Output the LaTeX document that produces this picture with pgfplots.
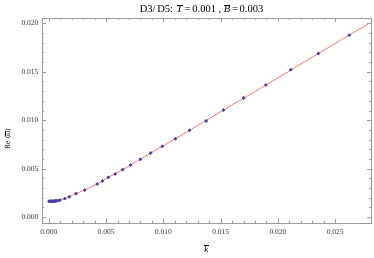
\documentclass[border=0pt]{standalone}
\usepackage{fontspec}
\setmainfont{Liberation Serif}
\usepackage{pgfplots}
\pgfplotsset{compat=1.18}
\definecolor{ptblue}{RGB}{72,64,158}
\definecolor{lnred}{RGB}{255,70,70}
\begin{document}
\begin{tikzpicture}
\useasboundingbox (0,0) rectangle (374pt,257pt);
\begin{axis}[
  at={(42pt,34pt)}, anchor=south west,
  scale only axis, width=329pt, height=205pt,
  xmin=-0.0006, xmax=0.02812, ymin=-0.00059, ymax=0.02055,
  xtick={0,0.005,0.010,0.015,0.020,0.025},
  ytick={0,0.005,0.010,0.015,0.020},
  minor x tick num=4, minor y tick num=4,
  scaled ticks=false,
  tick align=inside, major tick length=4pt, minor tick length=2pt,
  axis line style={gray!80}, tick style={gray!80},
  xticklabel style={yshift=-2.5pt, /pgf/number format/.cd, fixed, fixed zerofill, precision=3},
  yticklabel style={/pgf/number format/.cd, fixed, fixed zerofill, precision=3},
  /pgf/number format/assume math mode=true,
  tick label style={font=\fontsize{7.5}{8}\selectfont, text=black!80},
  every axis title shift=0pt,
  title={D3/\,D5: $\overline{\mbox{\textit{T}}}$\,=\,0.001 , $\overline{\mbox{\textit{B}}}$\,=\,0.003},
  title style={at={(rel axis cs:0.485,1)}, anchor=base, yshift=5pt, font=\fontsize{10.5}{12}\selectfont},
  xlabel={$\overline{\mbox{\textit{k}}}$},
  xlabel style={at={(axis description cs:0.5,-0.146)}, anchor=base, font=\fontsize{9}{10}\selectfont},
  ylabel={Re ($\overline{\mbox{\textit{ω}}}$)},
  ylabel style={at={(axis description cs:-0.1033,0.41)}, anchor=center, font=\fontsize{7.5}{9}\selectfont},
]
\addplot[only marks, mark=*, mark size=1.5pt, ptblue] coordinates {
(0.00002,0.00165) (0.00005,0.00165) (0.0001,0.00165) (0.00015,0.00165)
(0.0002,0.00165) (0.0003,0.00166) (0.0004,0.00166) (0.0005,0.00167)
(0.0006,0.00168) (0.0007,0.00170) (0.0008,0.00172) (0.00098,0.00177)
(0.00139,0.00192) (0.00179,0.00212) (0.00237,0.00243) (0.00313,0.00281)
(0.00421,0.00343) (0.00467,0.00374) (0.00519,0.00412) (0.00578,0.00446)
(0.00645,0.00491) (0.00713,0.00539) (0.00798,0.00598) (0.00889,0.00663)
(0.00990,0.00732) (0.01104,0.00810) (0.01229,0.00897) (0.01372,0.00993)
(0.01524,0.01106) (0.01701,0.01230) (0.01895,0.01364) (0.02111,0.01522)
(0.02352,0.01689) (0.02622,0.01879)
};
\addplot[lnred, line width=0.5pt, smooth] coordinates {
(0,0.00165) (0.0002,0.00165) (0.0005,0.00167) (0.0008,0.00172) (0.00098,0.00177)
(0.00139,0.00192) (0.00179,0.00212) (0.00237,0.00243) (0.00313,0.00281)
(0.00421,0.00343) (0.00519,0.00412) (0.00645,0.00491) (0.00798,0.00598)
(0.00990,0.00732) (0.01229,0.00897) (0.01524,0.01106) (0.01895,0.01364)
(0.02352,0.01689) (0.02622,0.01879) (0.02788,0.01993)
};
\end{axis}
\end{tikzpicture}
\end{document}
